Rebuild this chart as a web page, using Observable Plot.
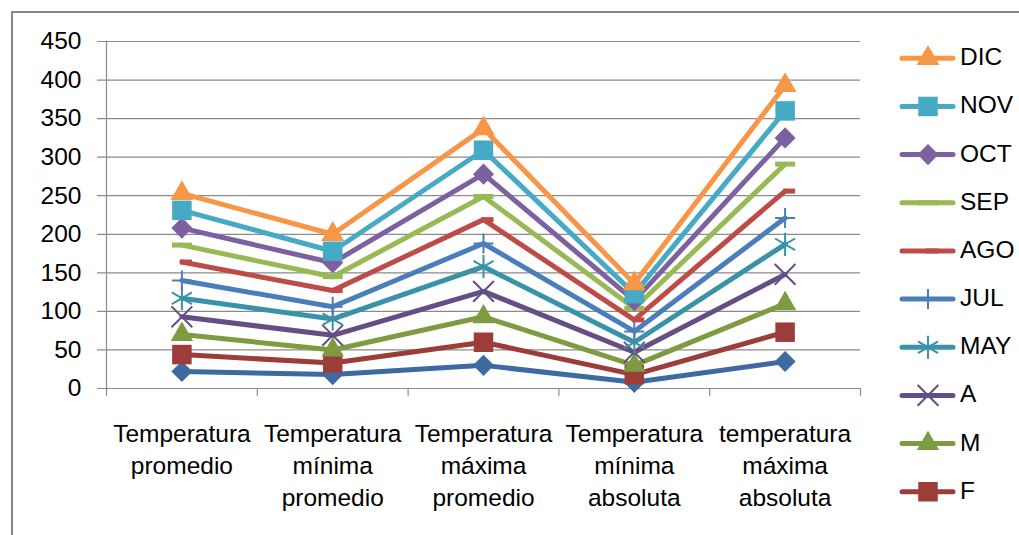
<!DOCTYPE html>
<html>
<head>
<meta charset="utf-8">
<script src="https://cdn.jsdelivr.net/npm/d3@7"></script>
<script src="https://cdn.jsdelivr.net/npm/@observablehq/plot@0.6"></script>
<style>
html, body { margin: 0; padding: 0; background: #fff; overflow: hidden; }
#wrap { position: relative; width: 1019px; height: 535px; font-family: "Liberation Sans", Arial, sans-serif; }
#border { position: absolute; left: 11px; top: 11px; width: 1200px; height: 700px; border: 2px solid #878787; box-sizing: border-box; pointer-events: none; }
#chart { position: absolute; left: 0; top: 0; }
#legend { position: absolute; left: 0; top: 0; pointer-events: none; }
</style>
</head>
<body>
<div id="wrap">
  <div id="chart"></div>
  <svg id="legend" width="1019" height="535"></svg>
  <div id="border"></div>
</div>
<script>
// ---- data (stacked cumulative values) ----
const categories = [
  "Temperatura\npromedio",
  "Temperatura\nmínima\npromedio",
  "Temperatura\nmáxima\npromedio",
  "Temperatura\nmínima\nabsoluta",
  "temperatura\nmáxima\nabsoluta"
];
const seriesNames = ["E", "F", "M", "A", "MAY", "JUL", "AGO", "SEP", "OCT", "NOV", "DIC"];
const E   = [22, 18, 30, 8, 35];
const F   = [44, 33, 60, 18, 73];
const M   = [70, 50, 93, 30, 110];
const A   = [93, 69, 126, 47, 148];
const MAY = [117, 90, 158, 60, 187];
const JUL = [140, 106, 188, 74, 221];
const AGO = [164, 127, 219, 89, 256];
const SEP = [186, 145, 249, 104, 291];
const OCT = [208, 163, 278, 114, 325];
const NOV = [231, 178, 309, 123, 360];
const DIC = [253, 200, 337, 136, 393];
const yTicks = [0, 50, 100, 150, 200, 250, 300, 350, 400, 450];
const legendNames = ["DIC", "NOV", "OCT", "SEP", "AGO", "JUL", "MAY", "A", "M", "F"];

const seriesValues = {E, F, M, A, MAY, JUL, AGO, SEP, OCT, NOV, DIC};

// ---- styles ----
const dashShort = {draw(ctx) { ctx.rect(-2, -2.5, 12, 5); }};
const dashLong = {draw(ctx) { ctx.rect(-10, -2.5, 20, 5); }};
const styles = {
  E:   {color: "#3d6aa1", symbol: "diamond2", r: 9.5, filled: true},
  F:   {color: "#9c3d3a", symbol: "square", r: 11, filled: true},
  M:   {color: "#7e9b41", symbol: "triangle", r: 8.3, filled: true},
  A:   {color: "#644e85", symbol: "times", r: 9.5, filled: false},
  MAY: {color: "#3a92a9", symbol: "asterisk", r: 11, filled: false},
  JUL: {color: "#4a7ebb", symbol: "plus", r: 6.5, filled: false},
  AGO: {color: "#be4b48", symbol: dashShort, r: 6, filled: true},
  SEP: {color: "#98b954", symbol: dashLong, r: 6, filled: true},
  OCT: {color: "#7d60a0", symbol: "diamond2", r: 9.5, filled: true},
  NOV: {color: "#46aac5", symbol: "square", r: 11, filled: true},
  DIC: {color: "#f79646", symbol: "triangle", r: 8.5, filled: true}
};

const rows = seriesNames.map(name =>
  seriesValues[name].map((v, i) => ({series: name, xi: i + 0.5, v}))
);

const fontSize = 24.5;
const tickOut = -0.06;  // small outward tick on the y axis, in x units
const nCat = categories.length;
const yMax = yTicks[yTicks.length - 1];

const marks = [
  Plot.ruleY(yTicks, {x1: () => tickOut, x2: () => nCat, stroke: "#8a8a8a", strokeWidth: 1.2}),
  Plot.ruleX([0], {y1: () => 0, y2: () => yMax, stroke: "#8a8a8a", strokeWidth: 1.2}),
  Plot.ruleX(d3.range(nCat + 1), {y1: () => -10, y2: () => 0, stroke: "#8a8a8a", strokeWidth: 1.2}),
  Plot.text(yTicks, {x: () => 0, y: d => d, text: d => String(d), textAnchor: "end", dx: -25, fontSize, fill: "#000"}),
  Plot.text(categories, {x: (d, i) => i + 0.5, y: () => 0, text: d => d, lineAnchor: "top", dy: 31, lineHeight: 1.31, fontSize, fill: "#000"})
];

seriesNames.forEach((name, k) => {
  const s = styles[name];
  marks.push(Plot.line(rows[k], {x: "xi", y: "v", stroke: s.color, strokeWidth: 5, strokeLinejoin: "round", strokeLinecap: "round"}));
  if (s.filled) {
    marks.push(Plot.dot(rows[k], {x: "xi", y: "v", symbol: s.symbol, r: s.r, fill: s.color, stroke: "none"}));
  } else {
    marks.push(Plot.dot(rows[k], {x: "xi", y: "v", symbol: s.symbol, r: s.r, fill: "none", stroke: s.color, strokeWidth: 2}));
  }
});

const chart = Plot.plot({
  width: 1019,
  height: 535,
  marginLeft: 106,
  marginRight: 159,
  marginTop: 41,
  marginBottom: 147,
  x: {domain: [0, nCat], axis: null},
  y: {domain: [0, yMax], axis: null},
  style: {fontFamily: '"Liberation Sans", Arial, sans-serif', background: "transparent", overflow: "visible"},
  marks
});
document.getElementById("chart").appendChild(chart);

// ---- legend ----
const symbolMap = {
  diamond2: d3.symbolDiamond2, square: d3.symbolSquare, triangle: d3.symbolTriangle,
  times: d3.symbolTimes, asterisk: d3.symbolAsterisk, plus: d3.symbolPlus
};
const leg = d3.select("#legend");
const legTop = 58.3, legStep = 48.16;
legendNames.forEach((name, i) => {
  const s = styles[name];
  const cy = legTop + i * legStep;
  const g = leg.append("g").attr("transform", `translate(0,${cy})`);
  g.append("line").attr("x1", 902).attr("x2", 953).attr("y1", 0).attr("y2", 0)
    .attr("stroke", s.color).attr("stroke-width", 5).attr("stroke-linecap", "round");
  const type = typeof s.symbol === "string" ? symbolMap[s.symbol] : s.symbol;
  const p = d3.symbol(type, Math.PI * s.r * s.r)();
  const mk = g.append("path").attr("transform", "translate(928,0)").attr("d", p);
  if (s.filled) mk.attr("fill", s.color);
  else mk.attr("fill", "none").attr("stroke", s.color).attr("stroke-width", 2);
  g.append("text").attr("x", 960).attr("y", 7).attr("font-size", fontSize)
    .attr("font-family", '"Liberation Sans", Arial, sans-serif').attr("fill", "#000").text(name);
});
</script>
</body>
</html>
